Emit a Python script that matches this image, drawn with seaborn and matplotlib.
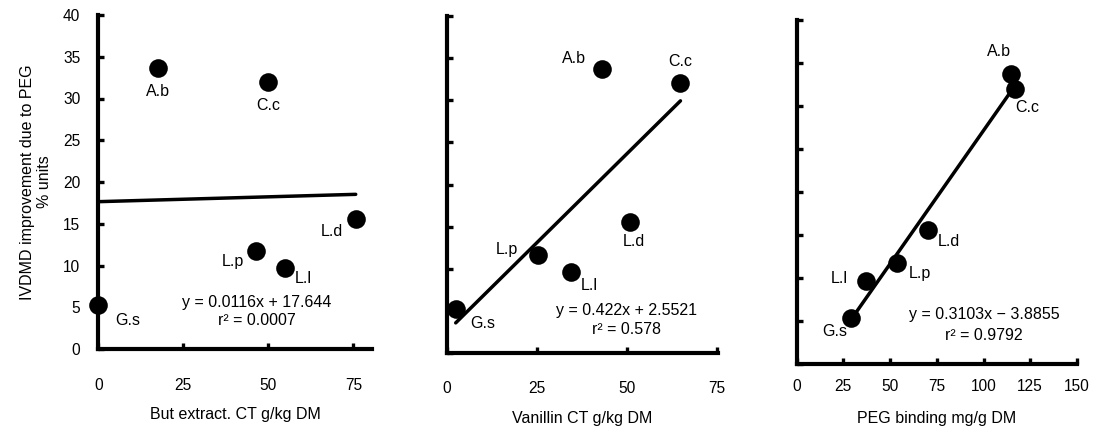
import matplotlib
matplotlib.use("Agg")
import matplotlib.pyplot as plt
import seaborn as sns
import pandas as pd
import numpy as np

# ---------------- data ----------------
species = ["A.b", "C.c", "L.d", "L.p", "L.l", "G.s"]
ivdmd_improvement = [33.7, 32.0, 15.6, 11.7, 9.7, 5.3]
but_extract_ct = [17.5, 49.9, 75.7, 46.3, 54.8, 0.0]
vanillin_ct = [43.2, 64.9, 50.8, 25.3, 34.6, 2.5]
peg_binding = [114.9, 116.9, 70.5, 53.9, 36.9, 29.4]

fit_slopes = [0.0116, 0.422, 0.3103]
fit_intercepts = [17.644, 2.5521, -3.8855]
eq_texts = ["y = 0.0116x + 17.644", "y = 0.422x + 2.5521", "y = 0.3103x \u2212 3.8855"]
r2_texts = ["r\u00b2 = 0.0007", "r\u00b2 = 0.578", "r\u00b2 = 0.9792"]

x_labels = ["But extract. CT g/kg DM", "Vanillin CT g/kg DM", "PEG binding mg/g DM"]
x_ticks = [[0, 25, 50, 75], [0, 25, 50, 75], [0, 25, 50, 75, 100, 125, 150]]
y_ticks = [0, 5, 10, 15, 20, 25, 30, 35, 40]
y_label = "IVDMD improvement due to PEG\n% units"

# ---------------- layout (pixels) ----------------
W, H = 1096, 434
# left, right, top, bottom in pixels
boxes = [(98.3, 371.7, 15, 349), (446.7, 718.3, 16, 353.3), (796.5, 1077, 20, 364)]
xmaxes = [80.4, 75.4, 150]
tick_pads = [21, 20, 11]
xlabel_y = [415, 418, 418]
# label offsets in pixels (dx, dy) for each species, per panel
label_offsets = [
    [(0, -24), (0, -24), (-24, -13), (-23, -10), (19, -10), (29, -16)],
    [(-28, 11), (0, 22), (4, -20), (-31, 5), (18, -14), (27, -15)],
    [(-12, 23), (12, -19), (21, -12), (23, -10), (-26, 2), (-17, -13)],
]
eq_pos = [((257, 302.7), (257, 320.7)), ((626.7, 310), (626.7, 329.3)), ((984.3, 315), (984.3, 336))]

sns.set_theme(style="ticks")
plt.rcParams["font.family"] = ["Liberation Sans", "DejaVu Sans"]
plt.rcParams["text.color"] = "black"
plt.rcParams["axes.labelcolor"] = "black"
plt.rcParams["xtick.color"] = "black"
plt.rcParams["ytick.color"] = "black"
FS = 11.5

fig = plt.figure(figsize=(W / 100, H / 100), dpi=100)
xs_all = [but_extract_ct, vanillin_ct, peg_binding]

for i in range(3):
    l, r, t, b = boxes[i]
    ax = fig.add_axes([l / W, (H - b) / H, (r - l) / W, (b - t) / H])
    df = pd.DataFrame({"x": xs_all[i], "y": ivdmd_improvement, "sp": species})

    # regression line from printed equation over the data range
    xl = np.array([df["x"].min(), df["x"].max()])
    line_df = pd.DataFrame({"x": xl, "y": fit_slopes[i] * xl + fit_intercepts[i]})
    sns.lineplot(data=line_df, x="x", y="y", ax=ax, color="black", linewidth=2.5)

    sns.scatterplot(data=df, x="x", y="y", ax=ax, color="black", s=180,
                    edgecolor="black", linewidth=0, clip_on=False, zorder=5)

    for j, sp in enumerate(species):
        dx, dy = label_offsets[i][j]
        ax.annotate(sp, (df["x"][j], df["y"][j]), xytext=(dx, dy),
                    textcoords="offset pixels", ha="center", va="center",
                    fontsize=FS, color="black")

    def frac(px, py):
        return ((px - l) / (r - l), (b - py) / (b - t))

    (p1, p2) = eq_pos[i]
    ax.text(*frac(*p1), eq_texts[i], transform=ax.transAxes, ha="center", va="center",
            fontsize=FS, color="black")
    ax.text(*frac(*p2), r2_texts[i], transform=ax.transAxes, ha="center", va="center",
            fontsize=FS, color="black")

    ax.set_xlim(0, xmaxes[i])
    ax.set_ylim(0, 40)
    ax.set_xticks(x_ticks[i])
    ax.set_yticks(y_ticks)
    ax.set_xticklabels([str(v) for v in x_ticks[i]], fontsize=11.2)
    if i == 0:
        ax.set_yticklabels([str(v) for v in y_ticks], fontsize=11.2)
        ax.set_ylabel(y_label, fontsize=11.5, linespacing=1.15, va="center", color="black")
        ax.yaxis.set_label_coords((36 - l) / (r - l), 0.5)
    else:
        ax.set_yticklabels([])
        ax.set_ylabel("")
    ax.set_xlabel(x_labels[i], fontsize=11.5, va="center", color="black")
    ax.xaxis.set_label_coords(0.5, (b - xlabel_y[i]) / (b - t))

    for s in ["top", "right"]:
        ax.spines[s].set_visible(False)
    for s in ["left", "bottom"]:
        ax.spines[s].set_linewidth(3.0)
        ax.spines[s].set_color("black")
    ax.tick_params(axis="both", direction="in", length=4.5, width=2.4, colors="black")
    ax.tick_params(axis="x", pad=tick_pads[i])
    ax.tick_params(axis="y", pad=13)
    ax.set_facecolor("white")

fig.savefig("out.png", dpi=100, facecolor="white")
